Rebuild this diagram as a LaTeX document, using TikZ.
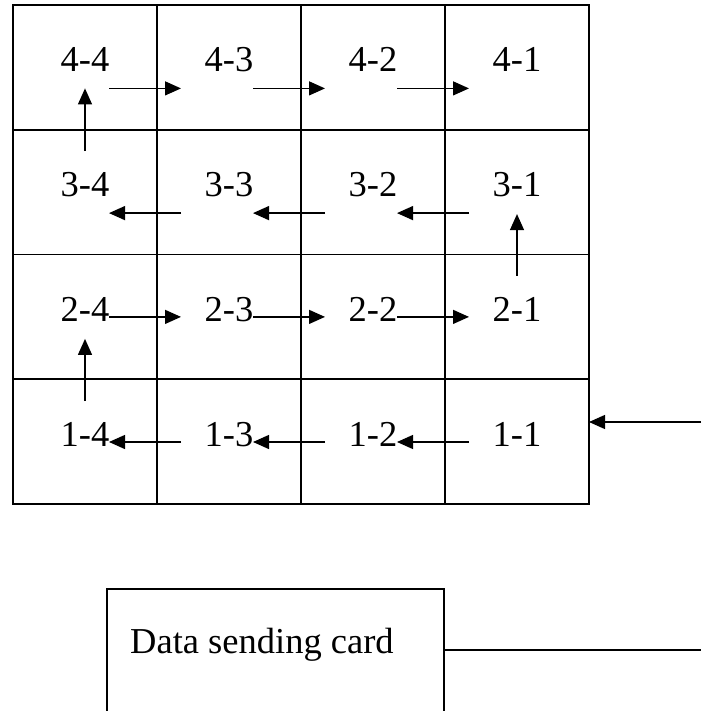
\documentclass[tikz,border=0pt]{standalone}
\usepackage{fontspec}
\setmainfont{Liberation Serif}
\usetikzlibrary{arrows.meta,calc}
\begin{document}
\begin{tikzpicture}[x=1pt,y=-1pt,
  cell/.style={draw,line width=1.8pt,minimum width=144pt,minimum height=124.75pt,inner sep=0pt,outer sep=0pt},
  lab/.style={anchor=base,inner sep=0pt,font=\fontsize{36.5}{44}\selectfont},
  arr/.style={line width=1.3pt,-{Triangle[length=16pt,width=14pt]}},
  cardbox/.style={draw,line width=1.8pt,minimum width=337pt,minimum height=160pt,inner sep=0pt,outer sep=0pt,anchor=north west},
  cardlab/.style={anchor=base west,inner sep=0pt,font=\fontsize{36.5}{44}\selectfont}]
\useasboundingbox (0,0) rectangle (701,711);
\clip (0,0) rectangle (701,711);
% cells
\foreach \r/\cy in {4/67.4,3/192.1,2/316.9,1/441.6}{
  \foreach \c/\cx in {4/85,3/229,2/373,1/517}{
    \node[cell] (c\r\c) at (\cx,\cy) {};
    \node[lab] (t\r\c) at ($(c\r\c)+(0,4.6)$) {\r-\c};
  }
}
% row 4 arrows (rightward, below text)
\draw[arr] ($(c44)+(24,21)$) -- ($(c43)+(-48,21)$);
\draw[arr] ($(c43)+(24,21)$) -- ($(c42)+(-48,21)$);
\draw[arr] ($(c42)+(24,21)$) -- ($(c41)+(-48,21)$);
% row 3 arrows (leftward)
\draw[arr] ($(c33)+(-48,21)$) -- ($(c34)+(24,21)$);
\draw[arr] ($(c32)+(-48,21)$) -- ($(c33)+(24,21)$);
\draw[arr] ($(c31)+(-48,21)$) -- ($(c32)+(24,21)$);
% row 2 arrows (rightward)
\draw[arr] ($(c24)+(24,0)$) -- ($(c23)+(-48,0)$);
\draw[arr] ($(c23)+(24,0)$) -- ($(c22)+(-48,0)$);
\draw[arr] ($(c22)+(24,0)$) -- ($(c21)+(-48,0)$);
% row 1 arrows (leftward)
\draw[arr] ($(c13)+(-48,0.4)$) -- ($(c14)+(24,0.4)$);
\draw[arr] ($(c12)+(-48,0.4)$) -- ($(c13)+(24,0.4)$);
\draw[arr] ($(c11)+(-48,0.4)$) -- ($(c12)+(24,0.4)$);
% vertical arrows
\draw[arr] ($(c34)+(0,-41)$) -- ($(c44)+(0,21)$);
\draw[arr] ($(c14)+(0,-40.6)$) -- ($(c24)+(0,22)$);
\draw[arr] ($(c21)+(0,-41)$) -- ($(c31)+(0,22)$);
% incoming arrow
\coordinate (inpt) at (701,422);
\draw[arr] (inpt) -- (c11.east |- inpt);
% data sending card
\node[cardbox] (card) at (107,589) {};
\node[cardlab] (cardtext) at (130,653) {Data sending card};
\coordinate (cardout) at (701,650);
\draw[line width=2.4pt] (card.east |- cardout) -- (cardout);
\end{tikzpicture}
\end{document}
